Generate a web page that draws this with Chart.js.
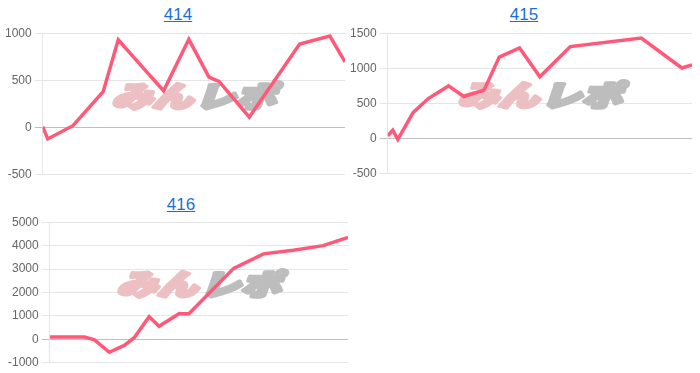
<!DOCTYPE html>
<html>
<head>
<meta charset="utf-8">
<script src="https://cdn.jsdelivr.net/npm/chart.js@4.4.1/dist/chart.umd.min.js"></script>
<style>
  body { margin: 0; background: #fff; width: 700px; height: 373px; position: relative; overflow: hidden; font-family: Arial, "Liberation Sans", sans-serif; }
  .ttl { position: absolute; font-size: 17px; line-height: 20px; color: #1a6fd6; text-decoration: underline; transform: translateX(-50%); }
  .box { position: absolute; }
</style>
</head>
<body>
<a class="ttl" href="#" style="left:178px;top:5px">414</a>
<a class="ttl" href="#" style="left:524px;top:5px">415</a>
<a class="ttl" href="#" style="left:181px;top:195px">416</a>
<div class="box" style="left:2px;top:23px;width:343px;height:162px"><canvas id="c414"></canvas></div>
<div class="box" style="left:347px;top:23px;width:345px;height:161px"><canvas id="c415"></canvas></div>
<div class="box" style="left:5px;top:212px;width:343px;height:161px"><canvas id="c416"></canvas></div>
<script>
// days since start, and balance on that day
const days414 = [0, 1, 6, 12, 15, 21, 24, 29, 33, 35, 41, 51, 57, 60];
const vals414 = [10, -120, 20, 380, 930, 570, 390, 935, 535, 490, 110, 885, 970, 695];

const days415 = [0, 1, 2, 5, 8, 12, 15, 19, 22, 26, 30, 36, 50, 58, 60];
const vals415 = [40, 120, -10, 370, 570, 750, 600, 690, 1160, 1290, 880, 1310, 1430, 1005, 1050];

const days416 = [0, 7, 9, 12, 15, 17, 20, 22, 26, 28, 37, 43, 49, 55, 60];
const vals416 = [100, 100, -20, -550, -260, 70, 970, 560, 1090, 1090, 3030, 3650, 3800, 4000, 4350];

// watermark behind the line
const logoPlugin = {
  id: 'logo',
  beforeDatasetsDraw(chart) {
    const ctx = chart.ctx, a = chart.chartArea;
    const cx = (a.left + a.right) / 2, cy = (a.top + a.bottom) / 2 - 8;
    ctx.save();
    ctx.font = 'italic 900 32px "Noto Sans CJK JP"';
    const w1 = ctx.measureText('みん').width, w2 = ctx.measureText('レポ').width;
    const tot = w1 + w2 + 2;
    ctx.translate(cx, cy);
    ctx.scale(164 / tot, 0.9);
    ctx.textBaseline = 'middle';
    ctx.textAlign = 'left';
    ctx.lineWidth = 4;
    ctx.lineJoin = 'round';
    ctx.fillStyle = ctx.strokeStyle = '#ecbfc3';
    ctx.fillText('みん', -tot / 2, 0);
    ctx.strokeText('みん', -tot / 2, 0);
    ctx.fillStyle = ctx.strokeStyle = '#bdbdbd';
    ctx.fillText('レポ', -tot / 2 + w1 + 2, 0);
    ctx.strokeText('レポ', -tot / 2 + w1 + 2, 0);
    ctx.restore();
  }
};

function makeChart(id, days, vals, min, max, step) {
  new Chart(document.getElementById(id), {
    type: 'line',
    data: {
      datasets: [{
        data: days.map((d, i) => ({ x: d, y: vals[i] })),
        borderColor: 'rgb(255, 88, 120)',
        borderWidth: 3.5,
        pointRadius: 0,
        tension: 0,
        fill: false
      }]
    },
    options: {
      responsive: true,
      maintainAspectRatio: false,
      animation: false,
      plugins: { legend: { display: false }, tooltip: { enabled: false } },
      scales: {
        x: { type: 'linear', display: false, min: 0, max: 60 },
        y: {
          min: min, max: max,
          ticks: { stepSize: step, color: '#666', font: { size: 12 }, callback: v => String(v) },
          grid: { color: c => (c.tick && c.tick.value === 0) ? 'rgba(0,0,0,0.25)' : 'rgba(0,0,0,0.1)' }
        }
      }
    },
    plugins: [logoPlugin]
  });
}

makeChart('c414', days414, vals414, -500, 1000, 500);
makeChart('c415', days415, vals415, -500, 1500, 500);
makeChart('c416', days416, vals416, -1000, 5000, 1000);
</script>
</body>
</html>
